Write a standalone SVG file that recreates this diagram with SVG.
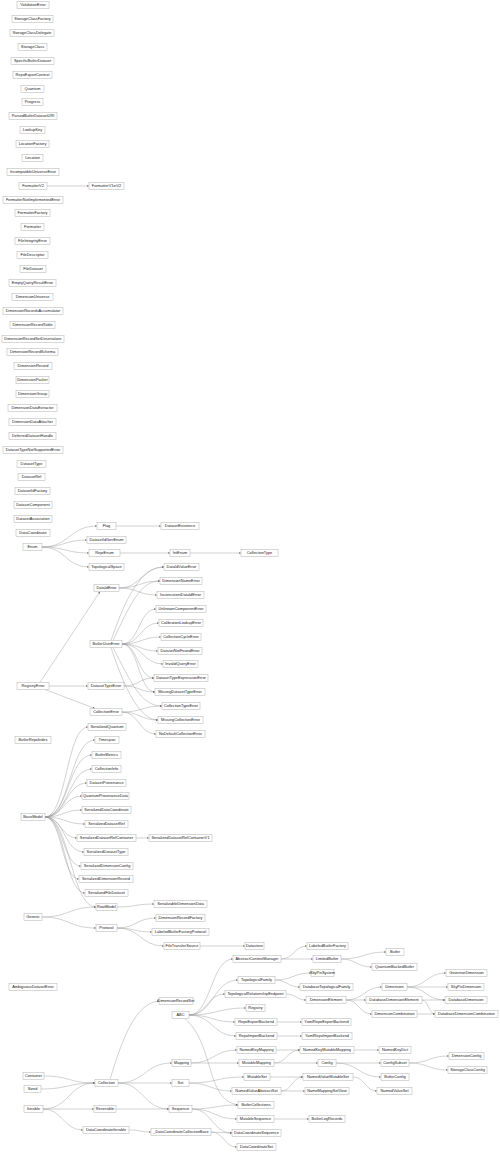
<svg xmlns="http://www.w3.org/2000/svg" width="500" height="1152" viewBox="0 0 500 1152">
<style>
.n rect{fill:#fff;stroke:#b0b0b0;stroke-width:0.5}
.n text{font-family:"Liberation Sans",Arial,sans-serif;font-size:3.9px;text-anchor:middle;fill:#222}
#edges path{fill:none;stroke:#9a9a9a;stroke-width:0.45;marker-end:url(#a)}
</style>
<defs>
<marker id="a" markerUnits="userSpaceOnUse" markerWidth="2.4" markerHeight="2" refX="2.4" refY="1" orient="auto" viewBox="0 0 2.4 2"><path d="M0,0 L2.4,1 L0,2 z" fill="#666"/></marker>
</defs>
<rect width="500" height="1152" fill="#fff"/>
<g id="edges">
<path d="M47 186 L89 186"/>
<path d="M42 547 C69.5 547 69.5 526 97 526"/>
<path d="M42 547 C64.5 547 64.5 540 87 540"/>
<path d="M42 547 C65.5 547 65.5 553 89 553"/>
<path d="M42 547 C65.5 547 65.5 567 89 567"/>
<path d="M116 526 L161 526"/>
<path d="M120 553 L170 553"/>
<path d="M190 553 L241 553"/>
<path d="M40 682.5 L100 591.5"/>
<path d="M49 686 L88 686"/>
<path d="M45 689.5 L95 708.5"/>
<path d="M119 588 C141.5 588 141.5 567 164 567"/>
<path d="M119 588 C139.5 588 139.5 581 160 581"/>
<path d="M119 588 C138 588 138 595 157 595"/>
<path d="M111 640.5 C125 600 140 567 164 567"/>
<path d="M113 640.5 C130 605 140 581 160 581"/>
<path d="M122 644 C139 644 139 609 156 609"/>
<path d="M122 644 C140.5 644 140.5 623 159 623"/>
<path d="M122 644 C141.5 644 141.5 637 161 637"/>
<path d="M122 644 C140 644 140 651 158 651"/>
<path d="M122 644 C142.5 644 142.5 664 163 664"/>
<path d="M122 644 C138 644 138 678 154 678"/>
<path d="M122 644 C138.5 644 138.5 692 155 692"/>
<path d="M113 647.5 C130 680 140 706 162 706"/>
<path d="M111 647.5 C125 690 140 720 158 720"/>
<path d="M124 686 C139 686 139 678 154 678"/>
<path d="M124 686 C139.5 686 139.5 692 155 692"/>
<path d="M122 712 C142 712 142 706 162 706"/>
<path d="M122 712 C140 712 140 720 158 720"/>
<path d="M122 712 C139 712 139 734 156 734"/>
<path d="M45 817 C66.5 817 66.5 727 88 727"/>
<path d="M45 817 C70 817 70 740 95 740"/>
<path d="M45 817 C68.5 817 68.5 755 92 755"/>
<path d="M45 817 C68.5 817 68.5 769 92 769"/>
<path d="M45 817 C66 817 66 783 87 783"/>
<path d="M45 817 C63.5 817 63.5 796 82 796"/>
<path d="M45 817 C63.5 817 63.5 810 82 810"/>
<path d="M45 817 C65 817 65 824 85 824"/>
<path d="M45 817 C61 817 61 838 77 838"/>
<path d="M45 817 C64.5 817 64.5 852 84 852"/>
<path d="M45 817 C63 817 63 866 81 866"/>
<path d="M45 817 C62 817 62 879 79 879"/>
<path d="M45 817 C65 817 65 893 85 893"/>
<path d="M45 817 C70.5 817 70.5 907 96 907"/>
<path d="M136 838 L149 838"/>
<path d="M42 917 C69 917 69 907 96 907"/>
<path d="M42 917 C69 917 69 928 96 928"/>
<path d="M117 907 C135.5 907 135.5 904 154 904"/>
<path d="M117 928 C136.5 928 136.5 918 156 918"/>
<path d="M117 928 C134.5 928 134.5 932 152 932"/>
<path d="M117 928 C140.5 928 140.5 946 164 946"/>
<path d="M200 946 L245 946"/>
<path d="M189 1015 C211 1015 211 959 233 959"/>
<path d="M189 1015 C213.5 1015 213.5 980 238 980"/>
<path d="M189 1015 C207 1015 207 994 225 994"/>
<path d="M189 1015 C217.5 1015 217.5 1008 246 1008"/>
<path d="M189 1015 C212 1015 212 1022 235 1022"/>
<path d="M189 1015 C212.5 1015 212.5 1036 236 1036"/>
<path d="M185 1018.5 C215 1045 205 1100 238 1105"/>
<path d="M281 959 C294 959 294 946 307 946"/>
<path d="M281 959 L313 959"/>
<path d="M341 959 C363.5 959 363.5 952 386 952"/>
<path d="M341 959 C356.5 959 356.5 967 372 967"/>
<path d="M275 980 C293 980 293 973 311 973"/>
<path d="M275 980 C287.5 980 287.5 987 300 987"/>
<path d="M286 994 C296 994 296 1000 306 1000"/>
<path d="M346 1000 C364 1000 364 987 382 987"/>
<path d="M346 1000 L366 1000"/>
<path d="M346 1000 C359 1000 359 1014 372 1014"/>
<path d="M407 987 C426.5 987 426.5 973 446 973"/>
<path d="M407 987 L448 987"/>
<path d="M407 987 C426 987 426 1000 445 1000"/>
<path d="M422 1000 L445 1000"/>
<path d="M422 1000 C428.5 1000 428.5 1014 435 1014"/>
<path d="M417 1014 L435 1014"/>
<path d="M277 1022 L302 1022"/>
<path d="M277 1036 L302 1036"/>
<path d="M110 1079.5 C122 1040 135 1003 159 1001"/>
<path d="M118 1083 C145 1083 145 1063 172 1063"/>
<path d="M118 1083 L172 1083"/>
<path d="M118 1083 C143.5 1083 143.5 1109 169 1109"/>
<path d="M44 1076 C69.5 1076 69.5 1083 95 1083"/>
<path d="M41 1089 C68 1089 68 1083 95 1083"/>
<path d="M43 1109 C69 1109 69 1083 95 1083"/>
<path d="M43 1109 L94 1109"/>
<path d="M43 1109 C63 1109 63 1130 83 1130"/>
<path d="M116 1109 L169 1109"/>
<path d="M129 1130 C140 1130 140 1132 151 1132"/>
<path d="M191 1063 C214 1063 214 1050 237 1050"/>
<path d="M191 1063 L239 1063"/>
<path d="M276 1050 L300 1050"/>
<path d="M274 1063 C287 1063 287 1050 300 1050"/>
<path d="M274 1063 L318 1063"/>
<path d="M354 1050 L379 1050"/>
<path d="M336 1063 L381 1063"/>
<path d="M336 1063 C358.5 1063 358.5 1077 381 1077"/>
<path d="M409 1063 C429 1063 429 1056 449 1056"/>
<path d="M409 1063 C428.5 1063 428.5 1070 448 1070"/>
<path d="M189 1083 C216.5 1083 216.5 1077 244 1077"/>
<path d="M189 1083 C210.5 1083 210.5 1091 232 1091"/>
<path d="M270 1077 L303 1077"/>
<path d="M281 1091 C292 1091 292 1077 303 1077"/>
<path d="M281 1091 L305 1091"/>
<path d="M353 1077 C365 1077 365 1091 377 1091"/>
<path d="M192 1109 C215 1109 215 1105 238 1105"/>
<path d="M192 1109 C214.5 1109 214.5 1119 237 1119"/>
<path d="M192 1109 C212 1109 212 1133 232 1133"/>
<path d="M274 1119 L309 1119"/>
<path d="M211 1132 L232 1133"/>
<path d="M211 1132 C224 1132 224 1147 237 1147"/>
</g>
<g id="n-ValidationError" class="n"><rect x="17" y="1.5" width="32" height="7"/><text x="33" y="6.35">ValidationError</text></g>
<g id="n-StorageClassFactory" class="n"><rect x="12" y="15.5" width="41" height="7"/><text x="32.5" y="20.35">StorageClassFactory</text></g>
<g id="n-StorageClassDelegate" class="n"><rect x="10" y="29.5" width="44" height="7"/><text x="32" y="34.35">StorageClassDelegate</text></g>
<g id="n-StorageClass" class="n"><rect x="18" y="43.5" width="29" height="7"/><text x="32.5" y="48.35">StorageClass</text></g>
<g id="n-SpecificButlerDataset" class="n"><rect x="11" y="57.5" width="43" height="7"/><text x="32.5" y="62.35">SpecificButlerDataset</text></g>
<g id="n-RepoExportContext" class="n"><rect x="13" y="71.5" width="39" height="7"/><text x="32.5" y="76.35">RepoExportContext</text></g>
<g id="n-Quantum" class="n"><rect x="21" y="85.5" width="23" height="7"/><text x="32.5" y="90.35">Quantum</text></g>
<g id="n-Progress" class="n"><rect x="22" y="98.5" width="21" height="7"/><text x="32.5" y="103.35">Progress</text></g>
<g id="n-ParsedButlerDatasetURI" class="n"><rect x="9" y="112.5" width="48" height="7"/><text x="33" y="117.35">ParsedButlerDatasetURI</text></g>
<g id="n-LookupKey" class="n"><rect x="20" y="126.5" width="25" height="7"/><text x="32.5" y="131.35">LookupKey</text></g>
<g id="n-LocationFactory" class="n"><rect x="16" y="140.5" width="33" height="7"/><text x="32.5" y="145.35">LocationFactory</text></g>
<g id="n-Location" class="n"><rect x="22" y="154.5" width="21" height="7"/><text x="32.5" y="159.35">Location</text></g>
<g id="n-IncompatibleUniverseError" class="n"><rect x="7" y="168.5" width="52" height="7"/><text x="33" y="173.35">IncompatibleUniverseError</text></g>
<g id="n-FormatterV2" class="n"><rect x="19" y="182.5" width="28" height="7"/><text x="33" y="187.35">FormatterV2</text></g>
<g id="n-FormatterV1inV2" class="n"><rect x="89" y="182.5" width="35" height="7"/><text x="106.5" y="187.35">FormatterV1inV2</text></g>
<g id="n-FormatterNotImplementedError" class="n"><rect x="3" y="196.5" width="60" height="7"/><text x="33" y="201.35">FormatterNotImplementedError</text></g>
<g id="n-FormatterFactory" class="n"><rect x="15" y="209.5" width="35" height="7"/><text x="32.5" y="214.35">FormatterFactory</text></g>
<g id="n-Formatter" class="n"><rect x="21" y="223.5" width="23" height="7"/><text x="32.5" y="228.35">Formatter</text></g>
<g id="n-FileIntegrityError" class="n"><rect x="15" y="237.5" width="35" height="7"/><text x="32.5" y="242.35">FileIntegrityError</text></g>
<g id="n-FileDescriptor" class="n"><rect x="17" y="251.5" width="31" height="7"/><text x="32.5" y="256.35">FileDescriptor</text></g>
<g id="n-FileDataset" class="n"><rect x="20" y="265.5" width="26" height="7"/><text x="33" y="270.35">FileDataset</text></g>
<g id="n-EmptyQueryResultError" class="n"><rect x="9" y="279.5" width="47" height="7"/><text x="32.5" y="284.35">EmptyQueryResultError</text></g>
<g id="n-DimensionUniverse" class="n"><rect x="12" y="293.5" width="41" height="7"/><text x="32.5" y="298.35">DimensionUniverse</text></g>
<g id="n-DimensionRecordsAccumulator" class="n"><rect x="3" y="307.5" width="60" height="7"/><text x="33" y="312.35">DimensionRecordsAccumulator</text></g>
<g id="n-DimensionRecordTable" class="n"><rect x="10" y="321.5" width="45" height="7"/><text x="32.5" y="326.35">DimensionRecordTable</text></g>
<g id="n-DimensionRecordSetDeserializer" class="n"><rect x="2" y="335.5" width="62" height="7"/><text x="33" y="340.35">DimensionRecordSetDeserializer</text></g>
<g id="n-DimensionRecordSchema" class="n"><rect x="7" y="348.5" width="51" height="7"/><text x="32.5" y="353.35">DimensionRecordSchema</text></g>
<g id="n-DimensionRecord" class="n"><rect x="14" y="362.5" width="38" height="7"/><text x="33" y="367.35">DimensionRecord</text></g>
<g id="n-DimensionPacker" class="n"><rect x="16" y="376.5" width="33" height="7"/><text x="32.5" y="381.35">DimensionPacker</text></g>
<g id="n-DimensionGroup" class="n"><rect x="16" y="390.5" width="33" height="7"/><text x="32.5" y="395.35">DimensionGroup</text></g>
<g id="n-DimensionDataExtractor" class="n"><rect x="8" y="404.5" width="49" height="7"/><text x="32.5" y="409.35">DimensionDataExtractor</text></g>
<g id="n-DimensionDataAttacher" class="n"><rect x="9" y="418.5" width="47" height="7"/><text x="32.5" y="423.35">DimensionDataAttacher</text></g>
<g id="n-DeferredDatasetHandle" class="n"><rect x="9" y="432.5" width="47" height="7"/><text x="32.5" y="437.35">DeferredDatasetHandle</text></g>
<g id="n-DatasetTypeNotSupportedError" class="n"><rect x="3" y="446.5" width="60" height="7"/><text x="33" y="451.35">DatasetTypeNotSupportedError</text></g>
<g id="n-DatasetType" class="n"><rect x="17" y="460.5" width="29" height="7"/><text x="31.5" y="465.35">DatasetType</text></g>
<g id="n-DatasetRef" class="n"><rect x="18" y="473.5" width="27" height="7"/><text x="31.5" y="478.35">DatasetRef</text></g>
<g id="n-DatasetIdFactory" class="n"><rect x="15" y="487.5" width="35" height="7"/><text x="32.5" y="492.35">DatasetIdFactory</text></g>
<g id="n-DatasetComponent" class="n"><rect x="14" y="501.5" width="38" height="7"/><text x="33" y="506.35">DatasetComponent</text></g>
<g id="n-DatasetAssociation" class="n"><rect x="14" y="515.5" width="38" height="7"/><text x="33" y="520.35">DatasetAssociation</text></g>
<g id="n-DataCoordinate" class="n"><rect x="16" y="529.5" width="34" height="7"/><text x="33" y="534.35">DataCoordinate</text></g>
<g id="n-Enum" class="n"><rect x="23" y="543.5" width="19" height="7"/><text x="32.5" y="548.35">Enum</text></g>
<g id="n-Flag" class="n"><rect x="97" y="522.5" width="19" height="7"/><text x="106.5" y="527.35">Flag</text></g>
<g id="n-DatasetExistence" class="n"><rect x="161" y="522.5" width="38" height="7"/><text x="180" y="527.35">DatasetExistence</text></g>
<g id="n-DatasetIdGenEnum" class="n"><rect x="87" y="536.5" width="39" height="7"/><text x="106.5" y="541.35">DatasetIdGenEnum</text></g>
<g id="n-ReprEnum" class="n"><rect x="89" y="549.5" width="31" height="7"/><text x="104.5" y="554.35">ReprEnum</text></g>
<g id="n-IntEnum" class="n"><rect x="170" y="549.5" width="20" height="7"/><text x="180" y="554.35">IntEnum</text></g>
<g id="n-CollectionType" class="n"><rect x="241" y="549.5" width="37" height="7"/><text x="259.5" y="554.35">CollectionType</text></g>
<g id="n-TopologicalSpace" class="n"><rect x="89" y="563.5" width="35" height="7"/><text x="106.5" y="568.35">TopologicalSpace</text></g>
<g id="n-DataIdValueError" class="n"><rect x="164" y="563.5" width="35" height="7"/><text x="181.5" y="568.35">DataIdValueError</text></g>
<g id="n-DimensionNameError" class="n"><rect x="160" y="577.5" width="42" height="7"/><text x="181" y="582.35">DimensionNameError</text></g>
<g id="n-DataIdError" class="n"><rect x="94" y="584.5" width="25" height="7"/><text x="106.5" y="589.35">DataIdError</text></g>
<g id="n-InconsistentDataIdError" class="n"><rect x="157" y="591.5" width="47" height="7"/><text x="180.5" y="596.35">InconsistentDataIdError</text></g>
<g id="n-UnknownComponentError" class="n"><rect x="156" y="605.5" width="50" height="7"/><text x="181" y="610.35">UnknownComponentError</text></g>
<g id="n-CalibrationLookupError" class="n"><rect x="159" y="619.5" width="44" height="7"/><text x="181" y="624.35">CalibrationLookupError</text></g>
<g id="n-CollectionCycleError" class="n"><rect x="161" y="633.5" width="40" height="7"/><text x="181" y="638.35">CollectionCycleError</text></g>
<g id="n-ButlerUserError" class="n"><rect x="90" y="640.5" width="32" height="7"/><text x="106" y="645.35">ButlerUserError</text></g>
<g id="n-DatasetNotFoundError" class="n"><rect x="158" y="647.5" width="44" height="7"/><text x="180" y="652.35">DatasetNotFoundError</text></g>
<g id="n-InvalidQueryError" class="n"><rect x="163" y="660.5" width="35" height="7"/><text x="180.5" y="665.35">InvalidQueryError</text></g>
<g id="n-DatasetTypeExpressionError" class="n"><rect x="154" y="674.5" width="54" height="7"/><text x="181" y="679.35">DatasetTypeExpressionError</text></g>
<g id="n-RegistryError" class="n"><rect x="17" y="682.5" width="32" height="7"/><text x="33" y="687.35">RegistryError</text></g>
<g id="n-DatasetTypeError" class="n"><rect x="88" y="682.5" width="36" height="7"/><text x="106" y="687.35">DatasetTypeError</text></g>
<g id="n-MissingDatasetTypeError" class="n"><rect x="155" y="688.5" width="50" height="7"/><text x="180" y="693.35">MissingDatasetTypeError</text></g>
<g id="n-CollectionTypeError" class="n"><rect x="162" y="702.5" width="38" height="7"/><text x="181" y="707.35">CollectionTypeError</text></g>
<g id="n-CollectionError" class="n"><rect x="90" y="708.5" width="32" height="7"/><text x="106" y="713.35">CollectionError</text></g>
<g id="n-MissingCollectionError" class="n"><rect x="158" y="716.5" width="45" height="7"/><text x="180.5" y="721.35">MissingCollectionError</text></g>
<g id="n-NoDefaultCollectionError" class="n"><rect x="156" y="730.5" width="49" height="7"/><text x="180.5" y="735.35">NoDefaultCollectionError</text></g>
<g id="n-SerializedQuantum" class="n"><rect x="88" y="723.5" width="38" height="7"/><text x="107" y="728.35">SerializedQuantum</text></g>
<g id="n-ButlerRepoIndex" class="n"><rect x="15" y="736.5" width="36" height="7"/><text x="33" y="741.35">ButlerRepoIndex</text></g>
<g id="n-Timespan" class="n"><rect x="95" y="736.5" width="24" height="7"/><text x="107" y="741.35">Timespan</text></g>
<g id="n-ButlerMetrics" class="n"><rect x="92" y="751.5" width="29" height="7"/><text x="106.5" y="756.35">ButlerMetrics</text></g>
<g id="n-CollectionInfo" class="n"><rect x="92" y="765.5" width="29" height="7"/><text x="106.5" y="770.35">CollectionInfo</text></g>
<g id="n-DatasetProvenance" class="n"><rect x="87" y="779.5" width="39" height="7"/><text x="106.5" y="784.35">DatasetProvenance</text></g>
<g id="n-QuantumProvenanceData" class="n"><rect x="82" y="792.5" width="47" height="7"/><text x="105.5" y="797.35">QuantumProvenanceData</text></g>
<g id="n-SerializedDataCoordinate" class="n"><rect x="82" y="806.5" width="49" height="7"/><text x="106.5" y="811.35">SerializedDataCoordinate</text></g>
<g id="n-BaseModel" class="n"><rect x="21" y="813.5" width="24" height="7"/><text x="33" y="818.35">BaseModel</text></g>
<g id="n-SerializedDatasetRef" class="n"><rect x="85" y="820.5" width="43" height="7"/><text x="106.5" y="825.35">SerializedDatasetRef</text></g>
<g id="n-SerializedDatasetRefContainer" class="n"><rect x="77" y="834.5" width="59" height="7"/><text x="106.5" y="839.35">SerializedDatasetRefContainer</text></g>
<g id="n-SerializedDatasetRefContainerV1" class="n"><rect x="149" y="834.5" width="63" height="7"/><text x="180.5" y="839.35">SerializedDatasetRefContainerV1</text></g>
<g id="n-SerializedDatasetType" class="n"><rect x="84" y="848.5" width="44" height="7"/><text x="106" y="853.35">SerializedDatasetType</text></g>
<g id="n-SerializedDimensionConfig" class="n"><rect x="81" y="862.5" width="52" height="7"/><text x="107" y="867.35">SerializedDimensionConfig</text></g>
<g id="n-SerializedDimensionRecord" class="n"><rect x="79" y="875.5" width="54" height="7"/><text x="106" y="880.35">SerializedDimensionRecord</text></g>
<g id="n-SerializedFileDataset" class="n"><rect x="85" y="889.5" width="43" height="7"/><text x="106.5" y="894.35">SerializedFileDataset</text></g>
<g id="n-SerializableDimensionData" class="n"><rect x="154" y="900.5" width="53" height="7"/><text x="180.5" y="905.35">SerializableDimensionData</text></g>
<g id="n-RootModel" class="n"><rect x="96" y="903.5" width="21" height="7"/><text x="106.5" y="908.35">RootModel</text></g>
<g id="n-Generic" class="n"><rect x="24" y="913.5" width="18" height="7"/><text x="33" y="918.35">Generic</text></g>
<g id="n-DimensionRecordFactory" class="n"><rect x="156" y="914.5" width="49" height="7"/><text x="180.5" y="919.35">DimensionRecordFactory</text></g>
<g id="n-Protocol" class="n"><rect x="96" y="924.5" width="21" height="7"/><text x="106.5" y="929.35">Protocol</text></g>
<g id="n-LabeledButlerFactoryProtocol" class="n"><rect x="152" y="928.5" width="57" height="7"/><text x="180.5" y="933.35">LabeledButlerFactoryProtocol</text></g>
<g id="n-FileTransferSource" class="n"><rect x="164" y="942.5" width="36" height="7"/><text x="182" y="947.35">FileTransferSource</text></g>
<g id="n-Datastore" class="n"><rect x="245" y="942.5" width="19" height="7"/><text x="254.5" y="947.35">Datastore</text></g>
<g id="n-LabeledButlerFactory" class="n"><rect x="307" y="942.5" width="41" height="7"/><text x="327.5" y="947.35">LabeledButlerFactory</text></g>
<g id="n-Butler" class="n"><rect x="386" y="948.5" width="18" height="7"/><text x="395" y="953.35">Butler</text></g>
<g id="n-AbstractContextManager" class="n"><rect x="233" y="955.5" width="48" height="7"/><text x="257" y="960.35">AbstractContextManager</text></g>
<g id="n-LimitedButler" class="n"><rect x="313" y="955.5" width="28" height="7"/><text x="327" y="960.35">LimitedButler</text></g>
<g id="n-QuantumBackedButler" class="n"><rect x="372" y="963.5" width="45" height="7"/><text x="394.5" y="968.35">QuantumBackedButler</text></g>
<g id="n-SkyPixSystem" class="n"><rect x="311" y="969.5" width="23" height="7"/><text x="322.5" y="974.35">SkyPixSystem</text></g>
<g id="n-GovernorDimension" class="n"><rect x="446" y="969.5" width="41" height="7"/><text x="466.5" y="974.35">GovernorDimension</text></g>
<g id="n-TopologicalFamily" class="n"><rect x="238" y="976.5" width="37" height="7"/><text x="256.5" y="981.35">TopologicalFamily</text></g>
<g id="n-AmbiguousDatasetError" class="n"><rect x="9" y="983.5" width="48" height="7"/><text x="33" y="988.35">AmbiguousDatasetError</text></g>
<g id="n-DatabaseTopologicalFamily" class="n"><rect x="300" y="983.5" width="53" height="7"/><text x="326.5" y="988.35">DatabaseTopologicalFamily</text></g>
<g id="n-Dimension" class="n"><rect x="382" y="983.5" width="25" height="7"/><text x="394.5" y="988.35">Dimension</text></g>
<g id="n-SkyPixDimension" class="n"><rect x="448" y="983.5" width="36" height="7"/><text x="466" y="988.35">SkyPixDimension</text></g>
<g id="n-TopologicalRelationshipEndpoint" class="n"><rect x="225" y="990.5" width="61" height="7"/><text x="255.5" y="995.35">TopologicalRelationshipEndpoint</text></g>
<g id="n-DimensionRecordSet" class="n"><rect x="159" y="997.5" width="34" height="7"/><text x="176" y="1002.35">DimensionRecordSet</text></g>
<g id="n-DimensionElement" class="n"><rect x="306" y="996.5" width="40" height="7"/><text x="326" y="1001.35">DimensionElement</text></g>
<g id="n-DatabaseDimensionElement" class="n"><rect x="366" y="996.5" width="56" height="7"/><text x="394" y="1001.35">DatabaseDimensionElement</text></g>
<g id="n-DatabaseDimension" class="n"><rect x="445" y="996.5" width="42" height="7"/><text x="466" y="1001.35">DatabaseDimension</text></g>
<g id="n-Registry" class="n"><rect x="246" y="1004.5" width="19" height="7"/><text x="255.5" y="1009.35">Registry</text></g>
<g id="n-ABC" class="n"><rect x="172" y="1011.5" width="17" height="7"/><text x="180.5" y="1016.35">ABC</text></g>
<g id="n-DimensionCombination" class="n"><rect x="372" y="1010.5" width="45" height="7"/><text x="394.5" y="1015.35">DimensionCombination</text></g>
<g id="n-DatabaseDimensionCombination" class="n"><rect x="435" y="1010.5" width="63" height="7"/><text x="466.5" y="1015.35">DatabaseDimensionCombination</text></g>
<g id="n-RepoExportBackend" class="n"><rect x="235" y="1018.5" width="42" height="7"/><text x="256" y="1023.35">RepoExportBackend</text></g>
<g id="n-YamlRepoExportBackend" class="n"><rect x="302" y="1018.5" width="49" height="7"/><text x="326.5" y="1023.35">YamlRepoExportBackend</text></g>
<g id="n-RepoImportBackend" class="n"><rect x="236" y="1032.5" width="41" height="7"/><text x="256.5" y="1037.35">RepoImportBackend</text></g>
<g id="n-YamlRepoImportBackend" class="n"><rect x="302" y="1032.5" width="50" height="7"/><text x="327" y="1037.35">YamlRepoImportBackend</text></g>
<g id="n-NamedKeyMapping" class="n"><rect x="237" y="1046.5" width="39" height="7"/><text x="256.5" y="1051.35">NamedKeyMapping</text></g>
<g id="n-NamedKeyMutableMapping" class="n"><rect x="300" y="1046.5" width="54" height="7"/><text x="327" y="1051.35">NamedKeyMutableMapping</text></g>
<g id="n-NamedKeyDict" class="n"><rect x="379" y="1046.5" width="32" height="7"/><text x="395" y="1051.35">NamedKeyDict</text></g>
<g id="n-DimensionConfig" class="n"><rect x="449" y="1052.5" width="35" height="7"/><text x="466.5" y="1057.35">DimensionConfig</text></g>
<g id="n-Mapping" class="n"><rect x="172" y="1059.5" width="19" height="7"/><text x="181.5" y="1064.35">Mapping</text></g>
<g id="n-MutableMapping" class="n"><rect x="239" y="1059.5" width="35" height="7"/><text x="256.5" y="1064.35">MutableMapping</text></g>
<g id="n-Config" class="n"><rect x="318" y="1059.5" width="18" height="7"/><text x="327" y="1064.35">Config</text></g>
<g id="n-ConfigSubset" class="n"><rect x="381" y="1059.5" width="28" height="7"/><text x="395" y="1064.35">ConfigSubset</text></g>
<g id="n-StorageClassConfig" class="n"><rect x="448" y="1066.5" width="39" height="7"/><text x="467.5" y="1071.35">StorageClassConfig</text></g>
<g id="n-Container" class="n"><rect x="23" y="1072.5" width="21" height="7"/><text x="33.5" y="1077.35">Container</text></g>
<g id="n-MutableSet" class="n"><rect x="244" y="1073.5" width="26" height="7"/><text x="257" y="1078.35">MutableSet</text></g>
<g id="n-NamedValueMutableSet" class="n"><rect x="303" y="1073.5" width="50" height="7"/><text x="328" y="1078.35">NamedValueMutableSet</text></g>
<g id="n-ButlerConfig" class="n"><rect x="381" y="1073.5" width="28" height="7"/><text x="395" y="1078.35">ButlerConfig</text></g>
<g id="n-Collection" class="n"><rect x="95" y="1079.5" width="23" height="7"/><text x="106.5" y="1084.35">Collection</text></g>
<g id="n-Set" class="n"><rect x="172" y="1079.5" width="17" height="7"/><text x="180.5" y="1084.35">Set</text></g>
<g id="n-Sized" class="n"><rect x="24" y="1085.5" width="17" height="7"/><text x="32.5" y="1090.35">Sized</text></g>
<g id="n-NamedValueAbstractSet" class="n"><rect x="232" y="1087.5" width="49" height="7"/><text x="256.5" y="1092.35">NamedValueAbstractSet</text></g>
<g id="n-NameMappingSetView" class="n"><rect x="305" y="1087.5" width="44" height="7"/><text x="327" y="1092.35">NameMappingSetView</text></g>
<g id="n-NamedValueSet" class="n"><rect x="377" y="1087.5" width="35" height="7"/><text x="394.5" y="1092.35">NamedValueSet</text></g>
<g id="n-ButlerCollections" class="n"><rect x="238" y="1101.5" width="36" height="7"/><text x="256" y="1106.35">ButlerCollections</text></g>
<g id="n-Iterable" class="n"><rect x="24" y="1105.5" width="19" height="7"/><text x="33.5" y="1110.35">Iterable</text></g>
<g id="n-Reversible" class="n"><rect x="94" y="1105.5" width="22" height="7"/><text x="105" y="1110.35">Reversible</text></g>
<g id="n-Sequence" class="n"><rect x="169" y="1105.5" width="23" height="7"/><text x="180.5" y="1110.35">Sequence</text></g>
<g id="n-MutableSequence" class="n"><rect x="237" y="1115.5" width="37" height="7"/><text x="255.5" y="1120.35">MutableSequence</text></g>
<g id="n-ButlerLogRecords" class="n"><rect x="309" y="1115.5" width="36" height="7"/><text x="327" y="1120.35">ButlerLogRecords</text></g>
<g id="n-DataCoordinateIterable" class="n"><rect x="83" y="1126.5" width="46" height="7"/><text x="106" y="1131.35">DataCoordinateIterable</text></g>
<g id="n-_DataCoordinateCollectionBase" class="n"><rect x="151" y="1128.5" width="60" height="7"/><text x="181" y="1133.35">_DataCoordinateCollectionBase</text></g>
<g id="n-DataCoordinateSequence" class="n"><rect x="232" y="1129.5" width="49" height="7"/><text x="256.5" y="1134.35">DataCoordinateSequence</text></g>
<g id="n-DataCoordinateSet" class="n"><rect x="237" y="1143.5" width="39" height="7"/><text x="256.5" y="1148.35">DataCoordinateSet</text></g>
</svg>
